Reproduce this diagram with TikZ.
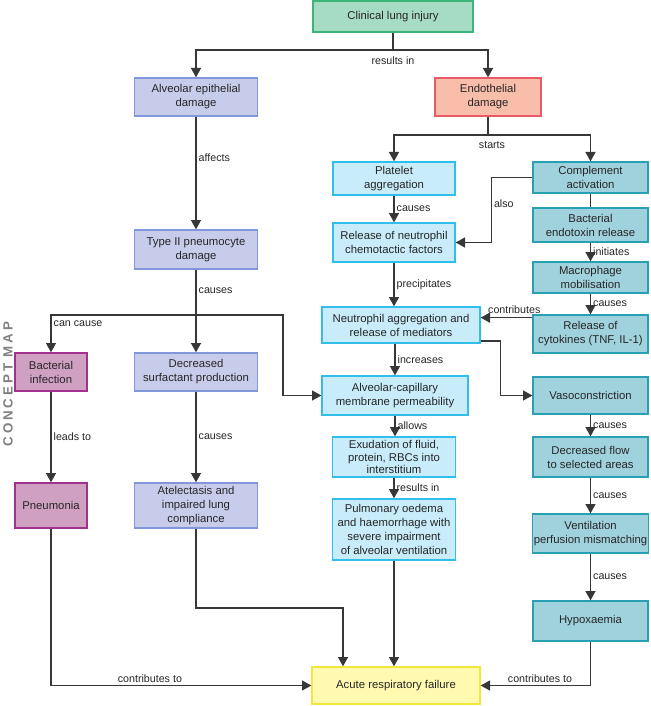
\documentclass[tikz,border=0pt]{standalone}
\usepackage{fontspec}
\setmainfont{Liberation Sans}
\newfontfamily\mapfont[LetterSpace=22]{Liberation Sans}
\usetikzlibrary{arrows.meta}

\definecolor{greenfill}{RGB}{167,220,196}
\definecolor{greenline}{RGB}{61,180,122}
\definecolor{lavfill}{RGB}{200,204,235}
\definecolor{lavline}{RGB}{131,150,220}
\definecolor{salmonfill}{RGB}{248,190,170}
\definecolor{salmonline}{RGB}{232,90,100}
\definecolor{skyfill}{RGB}{200,236,250}
\definecolor{skyline}{RGB}{50,190,235}
\definecolor{tealfill}{RGB}{160,210,222}
\definecolor{tealline}{RGB}{40,160,180}
\definecolor{mauvefill}{RGB}{208,160,195}
\definecolor{mauveline}{RGB}{160,50,140}
\definecolor{yellowfill}{RGB}{255,250,175}
\definecolor{yellowline}{RGB}{245,230,60}
\definecolor{wire}{RGB}{55,55,55}

\tikzset{every picture/.style={line width=0.9pt},
  box/.style={draw, line width=1pt, align=center, inner sep=1pt, text=black!85,
    font=\fontsize{8.5}{10.5}\selectfont},
  boxsize/.style 2 args={minimum width=#1*0.75pt, minimum height=#2*0.75pt},
  greenbox/.style={box, draw=greenline, fill=greenfill},
  lavbox/.style={box, draw=lavline, fill=lavfill},
  salmonbox/.style={box, draw=salmonline, fill=salmonfill},
  skybox/.style={box, draw=skyline, fill=skyfill},
  tealbox/.style={box, draw=tealline, fill=tealfill},
  mauvebox/.style={box, draw=mauveline, fill=mauvefill},
  yellowbox/.style={box, draw=yellowline, fill=yellowfill},
  lbl/.style={font=\fontsize{8}{10}\selectfont, inner sep=1.5pt, text=black!85},
  conn/.style={draw=wire, line width=1pt},
  arr/.style={conn, -{Triangle[length=7pt,width=7.5pt]}}
}

\begin{document}
\begin{tikzpicture}[x=0.75pt,y=0.75pt,yscale=-1,xscale=1]
\useasboundingbox (0,0) rectangle (650,706);

% side title
\node (cmap) at (8,384) [rotate=90, text=black!50, font=\mapfont\bfseries\fontsize{10}{12}\selectfont] {CONCEPT MAP};

% boxes
\node (clin) at (393,16.5) [greenbox, boxsize={160}{31}] {Clinical lung injury};
\node (alveo) at (196,97) [lavbox, boxsize={123}{38}] {Alveolar epithelial\\damage};
\node (endot) at (488,97) [salmonbox, boxsize={106}{38}] {Endothelial\\damage};
\node (plat) at (394,178.5) [skybox, boxsize={122}{33}] {Platelet\\aggregation};
\node (comp) at (590.5,177.5) [tealbox, boxsize={115}{31}] {Complement\\activation};
\node (chemo) at (394,242.5) [skybox, boxsize={122}{39}] {Release of neutrophil\\chemotactic factors};
\node (endo) at (590.5,225) [tealbox, boxsize={115}{34}] {Bacterial\\endotoxin release};
\node (macro) at (590.5,277.5) [tealbox, boxsize={115}{31}] {Macrophage\\mobilisation};
\node (cyto) at (590.5,334) [tealbox, boxsize={115}{38}] {Release of\\cytokines (TNF, IL-1)};
\node (neut) at (401,325) [skybox, boxsize={158}{36}] {Neutrophil aggregation and\\release of mediators};
\node (type2) at (196,249.5) [lavbox, boxsize={123}{39}] {Type II pneumocyte\\damage};
\node (bact) at (51,372) [mauvebox, boxsize={72}{38}] {Bacterial\\infection};
\node (surf) at (196,372) [lavbox, boxsize={123}{38}] {Decreased\\surfactant production};
\node (perm) at (395,395.5) [skybox, boxsize={146}{39}] {Alveolar-capillary\\membrane permeability};
\node (vaso) at (590.5,395.5) [tealbox, boxsize={115}{37}] {Vasoconstriction};
\node (exud) at (394,457) [skybox, boxsize={123}{40}, font=\fontsize{8.5}{9.2}\selectfont] {Exudation of fluid,\\protein, RBCs into\\interstitium};
\node (flow) at (590.5,457) [tealbox, boxsize={115}{40}] {Decreased flow\\to selected areas};
\node (pneu) at (51,505.5) [mauvebox, boxsize={72}{45}] {Pneumonia};
\node (atel) at (196,505.5) [lavbox, boxsize={123}{45}] {Atelectasis and\\impaired lung\\compliance};
\node (pulm) at (394,529.5) [skybox, boxsize={123}{61}] {Pulmonary oedema\\and haemorrhage with\\severe impairment\\of alveolar ventilation};
\node (vent) at (590.5,533.5) [tealbox, boxsize={115}{39}] {Ventilation\\perfusion mismatching};
\node (hypo) at (590.5,621) [tealbox, boxsize={115}{40}] {Hypoxaemia};
\node (acute) at (396,685.5) [yellowbox, boxsize={168}{37}] {Acute respiratory failure};

% junctions
\coordinate (j1) at (393,50);
\coordinate (j5) at (488,135);
\coordinate (j2) at (196,315);
\coordinate (j3) at (283,315);
\coordinate (j4) at (343,608);

% connectors
\draw[conn] (clin) -- (j1) node[lbl, below=3pt] {results in};
\draw[arr] (j1) -| (alveo);
\draw[arr] (j1) -| (endot);
\draw[conn] (endot) -- (j5) node[lbl, below=3pt, xshift=3pt] {starts};
\draw[arr] (j5) -| (plat);
\draw[arr] (j5) -| (comp);
\draw[arr] (plat) -- node[lbl, right] {causes} (chemo);
\draw[arr] (comp.west) -- ++(-41,0) |- node[lbl, right, pos=0.2] {also} (chemo.east);
\draw[conn] (comp) -- (endo);
\draw[arr] (endo) -- node[lbl, right] {initiates} (macro);
\draw[arr] (macro) -- node[lbl, right] {causes} (cyto);
\draw[arr] ([yshift=2.5pt]cyto.north west) -- node[lbl, above=1pt, pos=0.35] {contributes} ([yshift=2.5pt]cyto.north west -| neut.east);
\draw[arr] (chemo) -- node[lbl, right] {precipitates} (chemo |- neut.north);
\draw[arr] (neut.south -| perm) -- node[lbl, right] {increases} (perm);
\draw[arr] ([yshift=-2pt]neut.south east) -- ++(20,0) |- (vaso.west);
\draw[arr] (perm) -- node[lbl, right] {allows} (perm |- exud.north);
\draw[arr] (exud) -- node[lbl, right] {results in} (pulm);
\draw[arr] (vaso) -- node[lbl, right] {causes} (flow);
\draw[arr] (flow) -- node[lbl, right] {causes} (vent);
\draw[arr] (vent) -- node[lbl, right] {causes} (hypo);
\draw[arr] (hypo) |- node[lbl, above, pos=0.73] {contributes to} (acute.east);
\draw[arr] (pulm) -- (pulm |- acute.north);

% left side
\draw[arr] (alveo) -- node[lbl, right, pos=0.36] {affects} (type2);
\draw[arr] (type2) -- node[lbl, right, pos=0.26] {causes} (surf);
\draw[arr] (j2) -| node[lbl, right, pos=0.62] {can cause} (bact);
\draw[arr] (j2) -- (j3) |- (perm.west);
\draw[arr] (bact) -- node[lbl, right] {leads to} (pneu);
\draw[arr] (surf) -- node[lbl, right] {causes} (atel);
\draw[arr] (atel) |- (j4) -- (j4 |- acute.north);
\draw[arr] (pneu) |- node[lbl, above, pos=0.69] {contributes to} (acute.west);

\end{tikzpicture}
\end{document}
